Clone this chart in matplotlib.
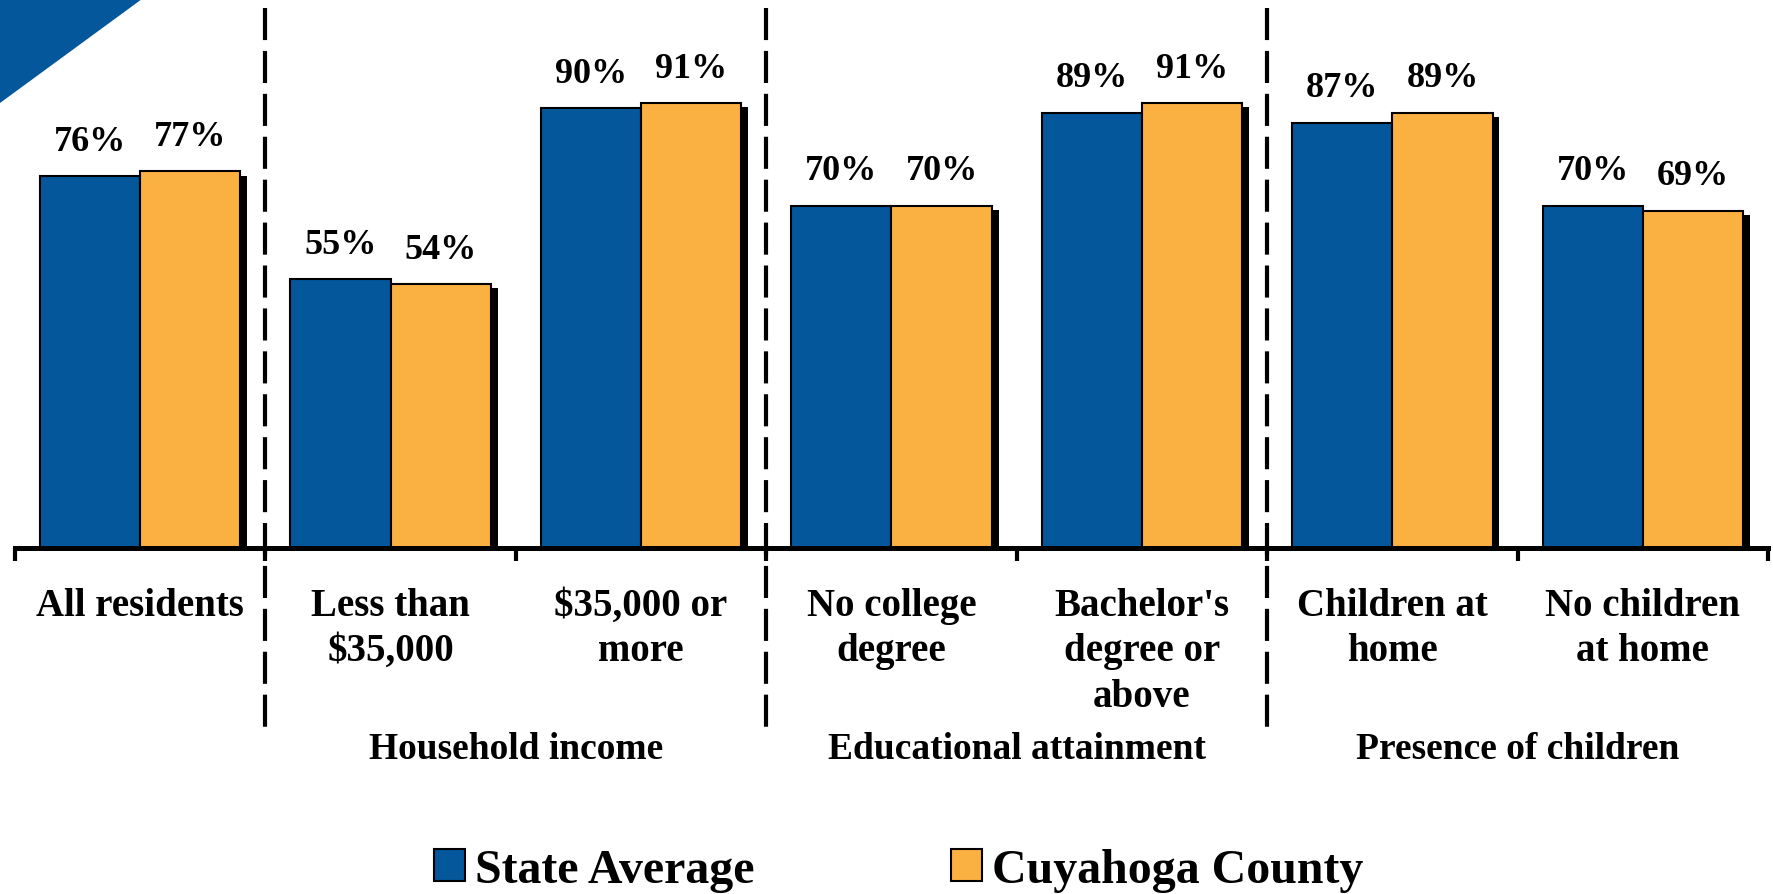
import matplotlib
matplotlib.use("Agg")
from matplotlib import pyplot as plt
from matplotlib import patheffects
from matplotlib.patches import Patch, Polygon

categories = ["All residents", "Less than\n\\$35,000", "\\$35,000 or\nmore", "No college\ndegree",
              "Bachelor's\ndegree or\nabove", "Children at\nhome", "No children\nat home"]
groups = ["Household income", "Educational attainment", "Presence of children"]
group_centers = [1.5, 3.5, 5.5]
dividers = [0.5, 2.5, 4.5]
state = [76, 55, 90, 70, 89, 87, 70]
county = [77, 54, 91, 70, 91, 89, 69]

blue = "#03579A"
orange = "#FBB042"

plt.rcParams['font.family'] = ['Liberation Serif', 'DejaVu Serif']
plt.rcParams['font.weight'] = 'bold'

W, H = 1774, 895
fig = plt.figure(figsize=(W / 100, H / 100), dpi=100)
ax = fig.add_axes([15 / W, (H - 549) / H, (1768 - 15) / W, 489 / H])

# corner decoration
fig.patches.append(Polygon([(0, 1), (142 / W, 1), (0, 1 - 104 / H)], closed=True,
                           transform=fig.transFigure, facecolor=blue, edgecolor="none"))

x = list(range(len(categories)))
shadow = [patheffects.SimplePatchShadow(offset=(5, -3), shadow_rgbFace="black", alpha=1),
          patheffects.Normal()]
b1 = ax.bar([i - 0.2 for i in x], [v / 100 for v in state], 0.4, color=blue,
            edgecolor="black", linewidth=1.5, path_effects=shadow)
b2 = ax.bar([i + 0.2 for i in x], [v / 100 for v in county], 0.4, color=orange,
            edgecolor="black", linewidth=1.5, path_effects=shadow)

for bars, vals in [(b1, state), (b2, county)]:
    for rect, v in zip(bars, vals):
        ax.annotate(f"{v}%", (rect.get_x() + rect.get_width() / 2, rect.get_height()),
                    xytext=(0, 19), textcoords="offset points", ha="center", va="baseline",
                    fontsize=26, fontweight="bold")

ax.set_xlim(-0.5, 6.5)
ax.set_ylim(0, 1)
for s in ["left", "right", "top"]:
    ax.spines[s].set_visible(False)
ax.spines["bottom"].set_linewidth(3.6)
ax.set_yticks([])

ax.set_xticks([i - 0.5 for i in range(8)])
ax.set_xticklabels([])
ax.tick_params(axis="x", which="major", direction="out", length=9, width=3)
ax.set_xticks(x, minor=True)
ax.set_xticklabels(categories, minor=True, fontsize=28, fontweight="bold", linespacing=1.3)
ax.tick_params(axis="x", which="minor", length=0, pad=28)

tr = ax.get_xaxis_transform()
for d in dividers:
    ax.plot([d, d], [1.104, -0.375], transform=tr, color="black", lw=3,
            dashes=(7.7, 2.6), clip_on=False)

for gx, g in zip(group_centers, groups):
    ax.text(gx, -0.41, g, transform=tr, ha="center", va="center", fontsize=27,
            fontweight="bold")

handles = [Patch(facecolor=blue, edgecolor="black", linewidth=1.5, label="State Average"),
           Patch(facecolor=orange, edgecolor="black", linewidth=1.5, label="Cuyahoga County")]
fig.legend(handles=handles, loc="center", bbox_to_anchor=(899 / W, 24 / H), ncol=2,
           frameon=False, handlelength=0.65, handleheight=0.64,
           handletextpad=0.21, columnspacing=4.1, borderpad=0,
           prop={"size": 34.5, "weight": "bold"})

fig.savefig("out.png", dpi=100)
